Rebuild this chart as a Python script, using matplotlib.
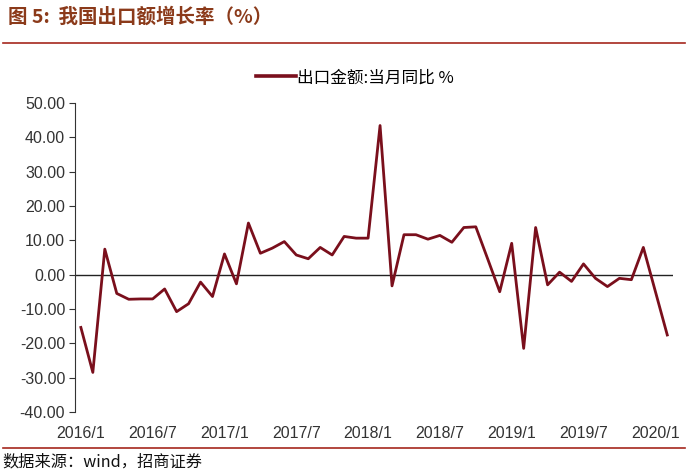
import numpy as np
import matplotlib.pyplot as plt
from matplotlib.lines import Line2D

plt.rcParams['font.family'] = ['Liberation Sans', 'Noto Sans CJK SC', 'DejaVu Sans']

# monthly export growth, 2016/1 .. 2020/2 (2020/1 not reported separately)
months = [f"{y}/{m}" for y in range(2016, 2021) for m in range(1, 13)][:50]
export_yoy = [
    -15.4, -28.5, 7.4, -5.5, -7.2, -7.1, -7.1, -4.2, -10.8, -8.5, -2.2, -6.4,
    6.0, -2.7, 15.0, 6.2, 7.7, 9.6, 5.7, 4.6, 7.9, 5.7, 11.1, 10.6,
    10.6, 43.4, -3.3, 11.6, 11.6, 10.3, 11.4, 9.4, 13.7, 13.9, 4.5, -5.0,
    9.1, -21.5, 13.7, -3.0, 0.7, -2.0, 3.1, -1.1, -3.5, -1.1, -1.5, 7.9,
    None, -17.6,
]
tick_labels = months[::6]
series_name = "出口金额:当月同比 %"
title = "图 5:  我国出口额增长率（%）"
source = "数据来源：wind，招商证券"

line_color = "#7a0f1c"
red = "#a5271e"
cjk = ["Noto Sans CJK SC", "DejaVu Sans"]

fig = plt.figure(figsize=(6.87, 4.74), dpi=100)
ax = fig.add_axes([0.109, 0.131, 0.871, 0.652])

# drop the missing month, the line joins across it
x = np.array([i for i, v in enumerate(export_yoy) if v is not None])
y = np.array([v for v in export_yoy if v is not None])
ax.plot(x, y, color=line_color, lw=2.0, label=series_name)
ax.axhline(0, color="#222222", lw=1.0, zorder=1)

ax.set_xlim(-0.5, len(months) - 0.5)
ax.set_ylim(-40, 50)
ax.set_yticks(np.arange(-40, 51, 10))
ax.set_yticklabels([f"{v:.2f}" for v in np.arange(-40, 51, 10)])
ax.set_xticks(range(0, len(months), 6))
ax.set_xticklabels(tick_labels)

for s in ["top", "right", "bottom"]:
    ax.spines[s].set_visible(False)
ax.spines["left"].set_color("#333333")
ax.tick_params(axis="y", direction="out", length=4, color="#333333",
               labelsize=11.5, labelcolor="#333333", pad=3)
ax.tick_params(axis="x", length=0, labelsize=11.5, labelcolor="#333333", pad=10)

ax.legend(handles=[Line2D([], [], color=line_color, lw=2.6)], labels=[series_name],
          loc="center", bbox_to_anchor=(0.468, 1.081), frameon=False,
          handlelength=2.4, handletextpad=0.1, borderpad=0,
          prop={"family": cjk, "size": 12})

fig.text(0.012, 0.964, title, color="#8b3a1a", fontsize=14, fontweight="bold",
         family=cjk, va="center", ha="left")
fig.add_artist(Line2D([0.005, 0.997], [0.909, 0.909], color=red, lw=1.2))
fig.add_artist(Line2D([0.005, 0.997], [0.055, 0.055], color=red, lw=1.2))
fig.text(0.004, 0.026, source, color="#111111", fontsize=11.7,
         family=cjk, va="center", ha="left")

fig.savefig("out.png", dpi=100)
